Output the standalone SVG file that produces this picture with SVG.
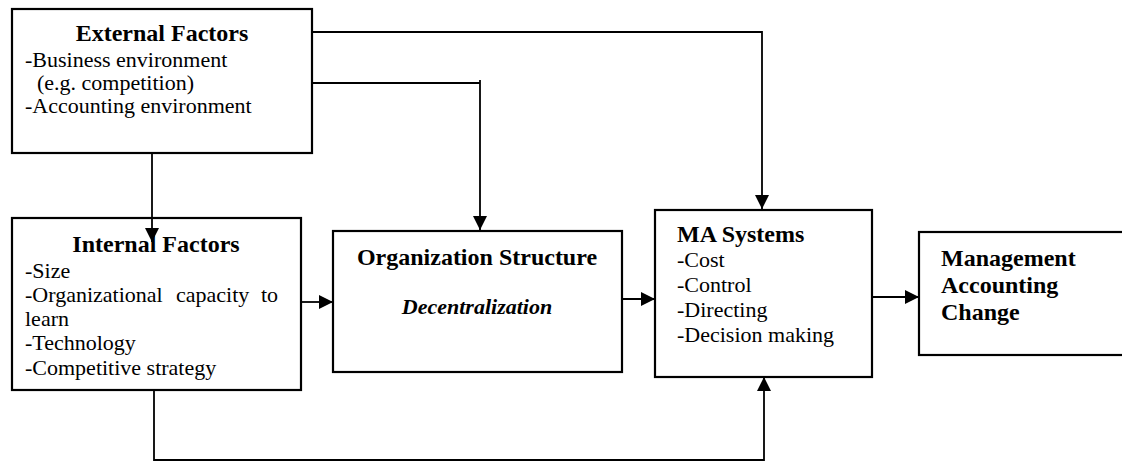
<svg xmlns="http://www.w3.org/2000/svg" width="1122" height="463" viewBox="0 0 1122 463">
<style>
  .box { fill: #ffffff; stroke: #000000; stroke-width: 2.2; }
  .conn { fill: none; stroke: #000000; stroke-width: 1.8; }
  .t { font-family: "Liberation Serif", "Times New Roman", serif; font-size: 22px; fill: #000000; }
  .h { font-family: "Liberation Serif", "Times New Roman", serif; font-size: 24px; font-weight: bold; fill: #000000; }
  .bi { font-family: "Liberation Serif", "Times New Roman", serif; font-size: 22px; font-weight: bold; font-style: italic; fill: #000000; }
</style>
<defs>
  <marker id="arrow" viewBox="0 0 14 14" refX="14" refY="7" markerWidth="14" markerHeight="14" markerUnits="userSpaceOnUse" orient="auto">
    <path d="M0,0 L14,7 L0,14 Z" fill="#000000"/>
  </marker>
</defs>
<rect x="0" y="0" width="1122" height="463" fill="#ffffff"/>

<g id="external-factors">
  <rect class="box" x="12" y="9" width="300" height="144"/>
  <text class="h" x="162" y="41" text-anchor="middle">External Factors</text>
  <text class="t" x="25" y="67">-Business environment</text>
  <text class="t" x="37" y="90">(e.g. competition)</text>
  <text class="t" x="25" y="113">-Accounting environment</text>
</g>

<g id="internal-factors">
  <rect class="box" x="12" y="218" width="289" height="172"/>
  <text class="h" x="156" y="252" text-anchor="middle">Internal Factors</text>
  <text class="t" x="25" y="278">-Size</text>
  <text class="t" x="25" y="302">-Organizational</text>
  <text class="t" x="176" y="302">capacity</text>
  <text class="t" x="278" y="302" text-anchor="end">to</text>
  <text class="t" x="25" y="326">learn</text>
  <text class="t" x="25" y="350">-Technology</text>
  <text class="t" x="25" y="375">-Competitive strategy</text>
</g>

<g id="organization-structure">
  <rect class="box" x="333" y="231" width="289" height="141"/>
  <text class="h" x="477" y="265" text-anchor="middle">Organization Structure</text>
  <text class="bi" x="477" y="314" text-anchor="middle">Decentralization</text>
</g>

<g id="ma-systems">
  <rect class="box" x="655" y="210" width="217" height="167"/>
  <text class="h" x="677" y="242">MA Systems</text>
  <text class="t" x="677" y="267">-Cost</text>
  <text class="t" x="677" y="292">-Control</text>
  <text class="t" x="677" y="317">-Directing</text>
  <text class="t" x="677" y="342">-Decision making</text>
</g>

<g id="management-accounting-change">
  <rect class="box" x="919" y="232" width="215" height="123"/>
  <text class="h" x="941" y="266">Management</text>
  <text class="h" x="941" y="293">Accounting</text>
  <text class="h" x="941" y="320">Change</text>
</g>

<g id="connectors">
  <path class="conn" d="M312,32 H762 V209" marker-end="url(#arrow)"/>
  <path class="conn" d="M312,83 H480 V80 M480,80 V230" marker-end="url(#arrow)"/>
  <path class="conn" d="M152,153 V242" marker-end="url(#arrow)"/>
  <path class="conn" d="M154,390 V460 H764 V377" marker-end="url(#arrow)"/>
  <path class="conn" d="M301,302 H333" marker-end="url(#arrow)"/>
  <path class="conn" d="M622,299 H655" marker-end="url(#arrow)"/>
  <path class="conn" d="M872,297 H919" marker-end="url(#arrow)"/>
</g>
</svg>
